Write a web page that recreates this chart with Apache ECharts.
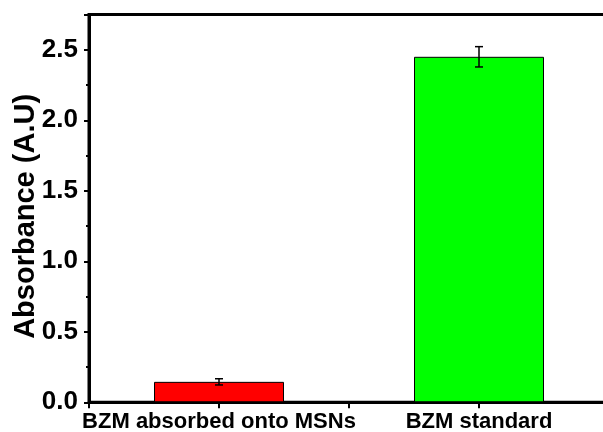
<!DOCTYPE html>
<html>
<head>
<meta charset="utf-8">
<script src="https://cdn.jsdelivr.net/npm/echarts@6/dist/echarts.min.js"></script>
<style>html,body{margin:0;padding:0;background:#fff}#c{width:603px;height:432px}</style>
</head>
<body>
<div id="c"></div>
<script>
const categories = ['BZM absorbed onto MSNs', 'BZM standard'];
const values = [0.145, 2.45];
const errors = [0.022, 0.072];
const barColors = ['#ff0000', '#00ff00'];
const yTitle = 'Absorbance (A.U)';

const FONT = '"Liberation Sans", Arial, sans-serif';
const chart = echarts.init(document.getElementById('c'), null, {renderer: 'canvas'});

const barData = values.map((v, i) => ({
  value: v,
  itemStyle: {color: barColors[i], borderColor: '#000', borderWidth: 1}
}));
const errData = values.map((v, i) => [i, v - errors[i], v + errors[i]]);

chart.setOption({
  animation: false,
  backgroundColor: '#fff',
  grid: {left: 89, right: -6, top: 14.5, bottom: 29.7, containLabel: false, outerBoundsMode: 'none',
    show: true, borderColor: '#000', borderWidth: 3, backgroundColor: 'transparent'},
  xAxis: [{
    type: 'category',
    data: categories,
    position: 'bottom',
    axisLine: {lineStyle: {color: '#000', width: 3}},
    axisTick: {show: false},
    axisLabel: {color: '#000', fontSize: 22, fontWeight: 'bold', fontFamily: FONT, margin: 9, interval: 0, hideOverlap: false}
  }, {
    type: 'value',
    min: 0.5, max: 2.5, interval: 0.5,
    position: 'bottom',
    axisLine: {show: false},
    axisTick: {show: true, length: 6, lineStyle: {color: '#000', width: 2}},
    axisLabel: {show: false},
    splitLine: {show: false}
  }],
  yAxis: {
    type: 'value',
    min: 0, max: 2.75, interval: 0.5,
    name: yTitle,
    nameLocation: 'middle',
    nameGap: 49,
    nameMoveOverlap: false,
    nameTextStyle: {color: '#000', fontSize: 29, fontWeight: 'bold', fontFamily: FONT, padding: [0, 16, 0, 0]},
    axisLine: {show: true, lineStyle: {color: '#000', width: 3}},
    axisTick: {show: true, length: 5, lineStyle: {color: '#000', width: 2}},
    minorTick: {show: true, splitNumber: 2, length: 3, lineStyle: {color: '#000', width: 2}},
    axisLabel: {color: '#000', fontSize: 26, fontWeight: 'bold', fontFamily: FONT, margin: 11, showMaxLabel: false,
      formatter: v => v.toFixed(1)},
    splitLine: {show: false}
  },
  series: [{
    type: 'bar',
    xAxisIndex: 0,
    data: barData,
    barWidth: '50%'
  }, {
    type: 'custom',
    xAxisIndex: 0,
    data: errData,
    z: 10,
    renderItem: function (params, api) {
      const x = api.value(0);
      const lo = api.coord([x, api.value(1)]);
      const hi = api.coord([x, api.value(2)]);
      const hw = 4;
      const style = {stroke: '#000', lineWidth: 1.5};
      return {type: 'group', children: [
        {type: 'line', shape: {x1: lo[0], y1: lo[1], x2: hi[0], y2: hi[1]}, style: style},
        {type: 'line', shape: {x1: lo[0] - hw, y1: lo[1], x2: lo[0] + hw, y2: lo[1]}, style: style},
        {type: 'line', shape: {x1: hi[0] - hw, y1: hi[1], x2: hi[0] + hw, y2: hi[1]}, style: style}
      ]};
    }
  }]
});
</script>
</body>
</html>
